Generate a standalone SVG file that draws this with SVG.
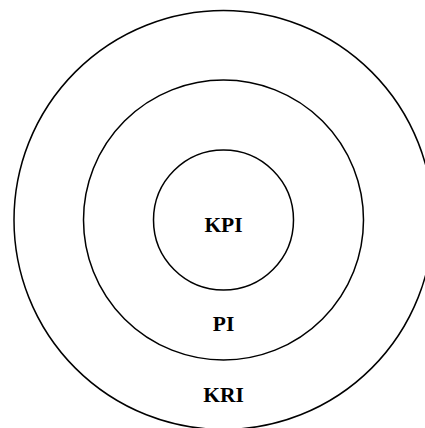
<svg xmlns="http://www.w3.org/2000/svg" width="425" height="428" viewBox="0 0 425 428">
<style>
circle{fill:none;stroke:#000;stroke-width:1.5}
text{font-family:"Liberation Serif","Times New Roman",serif;font-weight:bold;font-size:21.5px;text-anchor:middle;fill:#000}
</style>
<rect width="425" height="428" fill="#fff"/>
<g id="kri"><circle cx="223.5" cy="220" r="209.5"/><text x="223.5" y="401.5">KRI</text></g>
<g id="pi"><circle cx="223.5" cy="220" r="140"/><text x="223.5" y="330.5">PI</text></g>
<g id="kpi"><circle cx="223.5" cy="220" r="70"/><text x="223.5" y="231.5">KPI</text></g>
<g id="connectors"/>
</svg>
